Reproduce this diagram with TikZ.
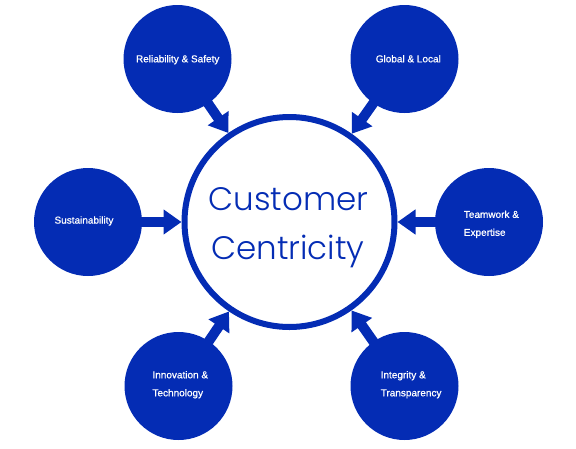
\documentclass[tikz,border=0pt]{standalone}
\usepackage{fontspec}
\setmainfont{Liberation Sans}[FakeBold=0.7]
\IfFontExistsTF{Poppins Light}{\newfontfamily\centrefont{Poppins Light}}{%
  \IfFontExistsTF{Lato Light}{\newfontfamily\centrefont{Lato Light}}{%
    \newfontfamily\centrefont{Poppins}}}
\usetikzlibrary{arrows.meta}
\definecolor{cblue}{RGB}{4,44,180}
\tikzset{
  satellite/.style={circle, fill=cblue, minimum size=108pt, inner sep=0pt},
  hub/.style={circle, draw=cblue, line width=6pt, minimum size=210pt, inner sep=0pt},
  lbl/.style={text=white, font=\fontsize{10}{18}\selectfont, inner sep=0pt},
  lbltwo/.style={lbl, align=left, anchor=west},
  bigtxt/.style={text=cblue, font=\centrefont\fontsize{32.5}{40}\selectfont, inner sep=0pt, anchor=base},
  feed/.style={draw=cblue, line width=10pt, -{Triangle[width=24pt,length=18pt]}, shorten <=-2pt},
}
\begin{document}
\begin{tikzpicture}[x=1pt,y=-1pt]
\useasboundingbox (0,0) rectangle (576,448);
\node[hub] (hub) at (289.5,222) {};
\node[bigtxt] (t1) at (288.5,210) {Customer};
\node[bigtxt] (t2) at (288,259) {Centricity};

\node[satellite] (rel) at (177.5,59) {};
\node[satellite] (glo) at (404.5,59) {};
\node[satellite] (sus) at (88,222) {};
\node[satellite] (tea) at (489,222) {};
\node[satellite] (inn) at (178.5,386) {};
\node[satellite] (int) at (404.5,386) {};

\node[lbl, anchor=base] (lrel) at (177.7,62.3) {Reliability \& Safety};
\node[lbl, anchor=base] (lglo) at (408.3,62.3) {Global \& Local};
\node[lbl, anchor=base] (lsus) at (84,223.6) {Sustainability};
\node[lbltwo] (ltea) at (463.7,224.3) {Teamwork \&\\Expertise};
\node[lbltwo] (linn) at (152.3,384.7) {Innovation \&\\Technology};
\node[lbltwo] (lint) at (380.5,384.7) {Integrity \&\\Transparency};

\draw[feed] (rel) -- (hub);
\draw[feed] (glo) -- (hub);
\draw[feed] (sus) -- (hub);
\draw[feed] (tea) -- (hub);
\draw[feed] (inn) -- (hub);
\draw[feed] (int) -- (hub);
\end{tikzpicture}
\end{document}
